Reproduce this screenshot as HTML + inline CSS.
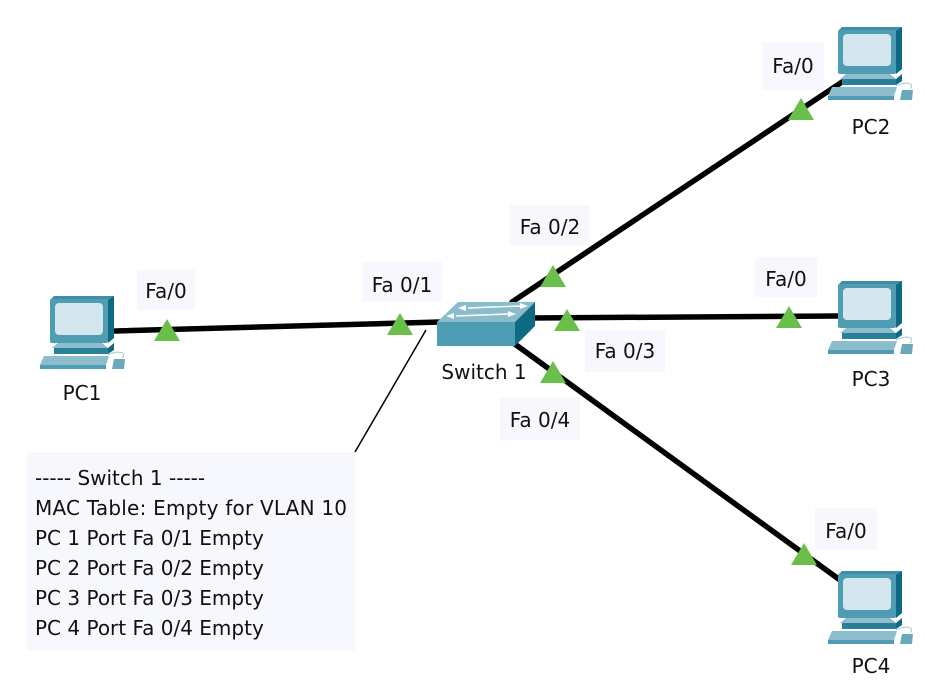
<!DOCTYPE html>
<html><head><style>
body{margin:0;background:#fff;}
svg{display:block;font-family:"DejaVu Sans",sans-serif;}
</style></head><body>
<svg width="946" height="693" viewBox="0 0 946 693" xmlns="http://www.w3.org/2000/svg">
<defs>
<g id="pc">
  <polygon points="0,2 4,-2 64,-2 60,2" fill="#3e8ea6"/>
  <polygon points="58,2 64,-2 64,40 58,45" fill="#0e6a82"/>
  <rect x="0" y="1" width="58" height="44" rx="2" fill="#4f9db3"/>
  <rect x="5" y="5" width="48" height="32" rx="4" fill="#d4e6ee"/>
  <polygon points="8,45 52,45 58,50 2,50" fill="#8dbccc"/>
  <rect x="4" y="50" width="54" height="6" fill="#2a7f99"/>
  <polygon points="58,50 64,45 64,52 58,56" fill="#0e6a82"/>
  <polygon points="-6,58 59,58 56,67 -10,67" fill="#8dbccc"/>
  <rect x="-10" y="67" width="66" height="4" fill="#4f9db3"/>
  <path d="M58,57 C66,52 78,54 72,60" fill="none" stroke="#a7c9d5" stroke-width="1"/>
  <polygon points="64,61 75,61 74,71 62,71" fill="#6aa9bc"/>
</g>
<polygon id="tri" points="0,-12 13,10 -13,10" fill="#6abf4b"/>
</defs>

<g stroke="#000" stroke-width="5.5" stroke-linecap="round">
  <line x1="115" y1="331" x2="440" y2="322"/>
  <line x1="842" y1="82" x2="512" y2="302"/>
  <line x1="530" y1="318" x2="838" y2="316"/>
  <line x1="512" y1="342" x2="840" y2="580"/>
</g>
<line x1="355" y1="452" x2="426" y2="330" stroke="#000" stroke-width="1.5"/>

<use href="#pc" x="50" y="298"/>
<use href="#pc" x="838" y="29"/>
<use href="#pc" x="838" y="283"/>
<use href="#pc" x="838" y="573"/>

<!-- switch -->
<polygon points="437,322 458,302 535,302 515,322" fill="#8bbccc"/>
<rect x="437" y="322" width="78" height="24" fill="#4f9db3"/>
<polygon points="515,322 535,302 535,326 515,346" fill="#0e6a82"/>
<g stroke="#fff" stroke-width="1.5" fill="#fff">
  <line x1="468" y1="308" x2="520" y2="306"/>
  <line x1="456" y1="316" x2="508" y2="314"/>
</g>
<polygon points="466,305 466,311 458,308" fill="#fff"/>
<polygon points="520,303 520,309 528,306" fill="#fff"/>
<polygon points="454,313 454,319 446,316" fill="#fff"/>
<polygon points="508,311 508,317 516,314" fill="#fff"/>

<use href="#tri" x="167" y="331"/>
<use href="#tri" x="400" y="325"/>
<use href="#tri" x="553" y="277"/>
<use href="#tri" x="567" y="321"/>
<use href="#tri" x="553" y="373"/>
<use href="#tri" x="789" y="318"/>
<use href="#tri" x="801" y="110"/>
<use href="#tri" x="804" y="555"/>

<g fill="#f7f8fd">
  <rect x="137" y="270" width="58" height="40"/>
  <rect x="362" y="262" width="80" height="40"/>
  <rect x="510" y="205" width="80" height="40"/>
  <rect x="585" y="330" width="80" height="42"/>
  <rect x="500" y="398" width="80" height="42"/>
  <rect x="762" y="42" width="62" height="48"/>
  <rect x="755" y="257" width="62" height="40"/>
  <rect x="815" y="508" width="62" height="42"/>
  <rect x="27" y="452" width="328" height="198"/>
</g>
<g font-size="20" fill="#111" text-anchor="middle">
  <text x="166" y="298">Fa/0</text>
  <text x="402" y="292">Fa 0/1</text>
  <text x="550" y="234">Fa 0/2</text>
  <text x="625" y="358">Fa 0/3</text>
  <text x="540" y="427">Fa 0/4</text>
  <text x="793" y="73">Fa/0</text>
  <text x="786" y="286">Fa/0</text>
  <text x="846" y="538">Fa/0</text>
  <text x="82" y="400">PC1</text>
  <text x="871" y="134">PC2</text>
  <text x="871" y="386">PC3</text>
  <text x="871" y="673">PC4</text>
  <text x="484" y="379">Switch 1</text>
</g>
<g font-size="20" fill="#111">
  <text x="35" y="485">----- Switch 1 -----</text>
  <text x="35" y="515" textLength="312">MAC Table: Empty for VLAN 10</text>
  <text x="35" y="545">PC 1 Port Fa 0/1 Empty</text>
  <text x="35" y="575">PC 2 Port Fa 0/2 Empty</text>
  <text x="35" y="605">PC 3 Port Fa 0/3 Empty</text>
  <text x="35" y="635">PC 4 Port Fa 0/4 Empty</text>
</g>
</svg>
</body></html>
